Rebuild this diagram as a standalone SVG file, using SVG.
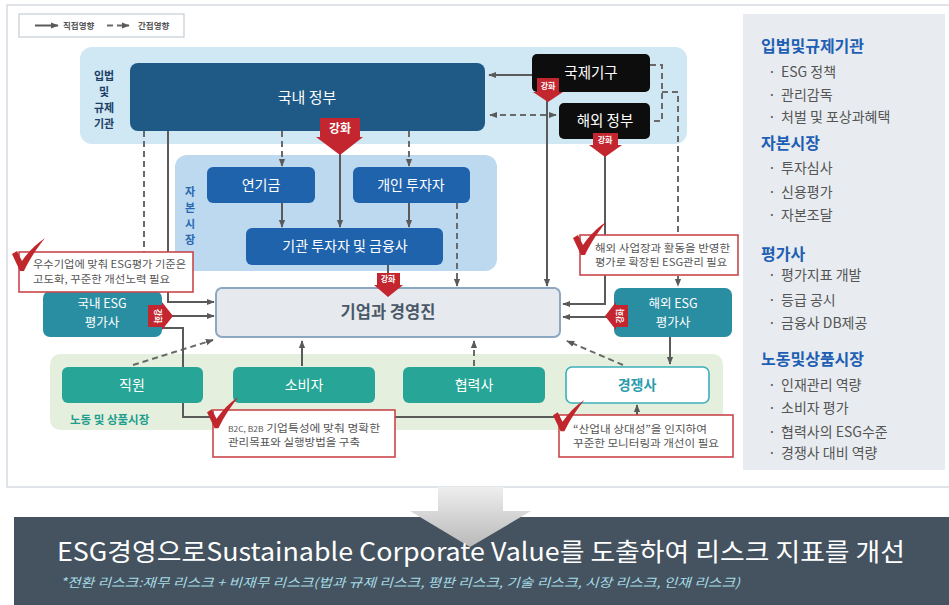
<svg xmlns="http://www.w3.org/2000/svg" width="949" height="605" viewBox="0 0 949 605">
  <defs>
    <style>
      text { font-family: "Noto Sans CJK KR", "Noto Sans", sans-serif; }
      .wt { fill: #ffffff; text-anchor: middle; }
      .line { fill: none; stroke: #5a5a5a; stroke-width: 2; }
      .dash { fill: none; stroke: #6a6a6a; stroke-width: 2; stroke-dasharray: 6 4; }
      .callout { fill: #ffffff; stroke: #c8474c; stroke-width: 1.6; }
      .ctext { fill: #555; font-size: 10.5px; }
      .rh { fill: #1f5fb3; font-size: 16px; font-weight: bold; }
      .ri { fill: #555; font-size: 14px; }
      .gang { fill: #c3262e; }
      .gt { fill: #fff; font-weight: bold; text-anchor: middle; }
      .vl1 { font-size: 11px; font-weight: bold; fill: #1d3f66; text-anchor: middle; }
      .vl2 { font-size: 11px; font-weight: bold; fill: #2a67b1; text-anchor: middle; }
    </style>
    <marker id="ah" viewBox="0 0 10 10" refX="9" refY="5" markerWidth="8" markerHeight="8" orient="auto-start-reverse" markerUnits="userSpaceOnUse">
      <path d="M0,1 L10,5 L0,9 z" fill="#5a5a5a"/>
    </marker>
    <path id="tick" d="M0,16 L5,13 L10,23 C16,14 24,6 33,0 C26,9 18,20 12,33 L8,33 Z" fill="#c0272d"/>
    <linearGradient id="bigArrow" x1="0" y1="0" x2="0" y2="1">
      <stop offset="0" stop-color="#eeeeee"/>
      <stop offset="1" stop-color="#b9b9b9"/>
    </linearGradient>
  </defs>

  <rect width="949" height="605" fill="#ffffff"/>

  <!-- outer frame -->
  <rect x="7" y="5" width="950" height="482" fill="#ffffff" stroke="#d6dce3" stroke-width="1.5"/>

  <!-- legend -->
  <g id="legend">
    <rect x="19" y="14" width="165" height="23" fill="#fff" stroke="#c5cdd6" stroke-width="1.2"/>
    <line x1="35" y1="25.5" x2="58" y2="25.5" class="line" stroke-width="1.3" marker-end="url(#ah)"/>
    <text x="63" y="29" font-size="8.5" font-weight="bold" fill="#555">직접영향</text>
    <line x1="107" y1="25.5" x2="129" y2="25.5" class="dash" stroke-width="1.3" stroke-dasharray="4 3" marker-end="url(#ah)"/>
    <text x="138" y="29" font-size="8.5" font-weight="bold" fill="#555">간접영향</text>
  </g>

  <!-- sector panels -->
  <g id="panel-regulators">
    <rect x="80" y="47" width="607" height="97" rx="12" fill="#d0e7f4"/>
    <text x="104" y="80" class="vl1">입법</text>
    <text x="104" y="96" class="vl1">및</text>
    <text x="104" y="112" class="vl1">규제</text>
    <text x="104" y="128" class="vl1">기관</text>
  </g>
  <g id="panel-capital">
    <rect x="175" y="155" width="322" height="116" rx="12" fill="#bcd9ef"/>
    <text x="190" y="196" class="vl2">자</text>
    <text x="190" y="212" class="vl2">본</text>
    <text x="190" y="228" class="vl2">시</text>
    <text x="190" y="244" class="vl2">장</text>
  </g>
  <g id="panel-market">
    <rect x="50" y="354" width="673" height="76" rx="10" fill="#e4f0dd"/>
    <text x="70" y="424" font-size="11.5" font-weight="bold" fill="#1f9d8f">노동 및 상품시장</text>
  </g>

  <!-- connectors -->
  <g id="connectors">
    <path class="line" d="M532,75 H489" marker-end="url(#ah)"/>
    <path class="dash" d="M490,115 H556" marker-start="url(#ah)" marker-end="url(#ah)"/>
    <path class="dash" d="M650,65 H662 V121 H651"/>
    <path class="dash" d="M662,92 H678 V286" marker-end="url(#ah)"/>
    <path class="line" d="M547,100 V286" marker-end="url(#ah)"/>
    <path class="line" d="M605,155 V304 H563" marker-end="url(#ah)"/>
    <path class="line" d="M607,317 H563" marker-end="url(#ah)"/>
    <path class="line" d="M670,337 V364" marker-end="url(#ah)"/>
    <path class="dash" d="M623,365 L567,341" marker-end="url(#ah)"/>
    <path class="dash" d="M474,366 V341" marker-end="url(#ah)"/>
    <path class="line" d="M302,366 V341" marker-end="url(#ah)"/>
    <path class="dash" d="M133,365 L213,340" marker-end="url(#ah)"/>
    <path class="line" d="M162,328 H183 V417 H637 V405" marker-end="url(#ah)"/>
    <path class="line" d="M172,316 H214" marker-end="url(#ah)"/>
    <path class="line" d="M168,131 V302 H214" marker-end="url(#ah)"/>
    <path class="dash" d="M144,131 V290"/>
    <path class="dash" d="M282,131 V166" marker-end="url(#ah)"/>
    <path class="dash" d="M409,131 V166" marker-end="url(#ah)"/>
    <path class="line" d="M340,150 V227" marker-end="url(#ah)"/>
    <path class="line" d="M282,203 V227" marker-end="url(#ah)"/>
    <path class="line" d="M409,203 V227" marker-end="url(#ah)"/>
    <path class="dash" d="M457,203 V286" marker-end="url(#ah)"/>
    <path class="line" d="M388,265 V275"/>
  </g>

  <!-- regulators -->
  <g id="node-gov">
    <rect x="130" y="63" width="355" height="68" rx="8" fill="#1e5a85"/>
    <text x="307" y="103" class="wt" font-size="15">국내 정부</text>
  </g>
  <g id="node-intl">
    <rect x="532" y="54" width="118" height="38" rx="5" fill="#0d0d0d"/>
    <text x="591" y="78" class="wt" font-size="14.5">국제기구</text>
  </g>
  <g id="node-foreign-gov">
    <rect x="559" y="103" width="91" height="36" rx="5" fill="#0d0d0d"/>
    <text x="605" y="126" class="wt" font-size="14.5">해외 정부</text>
  </g>

  <!-- capital market -->
  <g id="node-pension">
    <rect x="207" y="167" width="108" height="36" rx="6" fill="#1f63ad"/>
    <text x="261" y="190" class="wt" font-size="14">연기금</text>
  </g>
  <g id="node-retail">
    <rect x="353" y="167" width="117" height="36" rx="6" fill="#1f63ad"/>
    <text x="411" y="190" class="wt" font-size="14">개인 투자자</text>
  </g>
  <g id="node-institution">
    <rect x="246" y="228" width="197" height="37" rx="6" fill="#1f63ad"/>
    <text x="345" y="251" class="wt" font-size="14">기관 투자자 및 금융사</text>
  </g>

  <!-- company -->
  <g id="node-company">
    <rect x="216" y="288" width="344" height="49" rx="6" fill="#e6eaef" stroke="#8ea7c0" stroke-width="2"/>
    <text x="388" y="318" font-size="16.5" font-weight="bold" fill="#4a5868" text-anchor="middle">기업과 경영진</text>
  </g>

  <!-- rating agencies -->
  <g id="node-esg-domestic">
    <rect x="43" y="291" width="119" height="46" rx="7" fill="#2a8ea3"/>
    <text x="102" y="308" class="wt" font-size="12.5">국내 ESG</text>
    <text x="102" y="327" class="wt" font-size="12.5">평가사</text>
  </g>
  <g id="node-esg-foreign">
    <rect x="614" y="288" width="118" height="49" rx="7" fill="#2a8ea3"/>
    <text x="673" y="308" class="wt" font-size="12.5">해외 ESG</text>
    <text x="673" y="327" class="wt" font-size="12.5">평가사</text>
  </g>

  <!-- labour and product market -->
  <g id="node-employee">
    <rect x="62" y="367" width="141" height="36" rx="6" fill="#27a596"/>
    <text x="132" y="390" class="wt" font-size="14">직원</text>
  </g>
  <g id="node-consumer">
    <rect x="233" y="367" width="142" height="36" rx="6" fill="#27a596"/>
    <text x="304" y="390" class="wt" font-size="14">소비자</text>
  </g>
  <g id="node-partner">
    <rect x="403" y="367" width="142" height="36" rx="6" fill="#27a596"/>
    <text x="474" y="390" class="wt" font-size="14">협력사</text>
  </g>
  <g id="node-competitor">
    <rect x="566" y="367" width="143" height="36" rx="6" fill="#ffffff" stroke="#3ab0b8" stroke-width="1.6"/>
    <text x="637" y="390" font-size="14" font-weight="bold" fill="#2a9cad" text-anchor="middle">경쟁사</text>
  </g>

  <!-- reinforcement (강화) arrows -->
  <g id="reinforce">
    <path class="gang" d="M320,118 H360 V137 H363 L340,155 L316,137 H320 Z"/>
    <text x="340" y="133" class="gt" font-size="12">강화</text>
    <path class="gang" d="M537,78 H559 V92 H563 L548,102 L533,92 H537 Z"/>
    <text x="548" y="89" class="gt" font-size="8">강화</text>
    <path class="gang" d="M593,133 H618 V145 H622 L605,157 L589,145 H593 Z"/>
    <text x="605" y="142.5" class="gt" font-size="8">강화</text>
    <path class="gang" d="M377,273 H400 V285 H403 L388,297 L374,285 H377 Z"/>
    <text x="388" y="282" class="gt" font-size="8">강화</text>
    <path class="gang" d="M148,305 H162 V302 L173,316 L162,330 V327 H148 Z"/>
    <text x="0" y="0" class="gt" font-size="8" transform="translate(158,316) rotate(90)" dy="3">강화</text>
    <path class="gang" d="M628,305 H616 V302 L605,316 L616,330 V327 H628 Z"/>
    <text x="0" y="0" class="gt" font-size="8" transform="translate(620,316) rotate(-90)" dy="3">강화</text>
  </g>

  <!-- notes -->
  <g id="note-domestic">
    <rect class="callout" x="19" y="252" width="174" height="40"/>
    <text x="33" y="268" class="ctext" textLength="153" lengthAdjust="spacingAndGlyphs">우수기업에 맞춰 ESG평가 기준은</text>
    <text x="33" y="283" class="ctext" textLength="137" lengthAdjust="spacingAndGlyphs">고도화, 꾸준한 개선노력 필요</text>
    <use href="#tick" transform="translate(12,238)"/>
  </g>
  <g id="note-foreign">
    <rect class="callout" x="580" y="235" width="158" height="40"/>
    <text x="595" y="252" class="ctext" textLength="135" lengthAdjust="spacingAndGlyphs">해외 사업장과 활동을 반영한</text>
    <text x="595" y="266" class="ctext" textLength="132" lengthAdjust="spacingAndGlyphs">평가로 확장된 ESG관리 필요</text>
    <use href="#tick" transform="translate(573,222)"/>
  </g>
  <g id="note-consumer">
    <rect class="callout" x="213" y="410" width="182" height="47"/>
    <text x="228" y="432" class="ctext" textLength="152" lengthAdjust="spacingAndGlyphs"><tspan font-size="7.5">B2C, B2B</tspan> 기업특성에 맞춰 명확한</text>
    <text x="228" y="446" class="ctext" textLength="132" lengthAdjust="spacingAndGlyphs">관리목표와 실행방법을 구축</text>
    <use href="#tick" transform="translate(207,397) scale(0.95)"/>
  </g>
  <g id="note-competitor">
    <rect class="callout" x="559" y="415" width="174" height="42"/>
    <text x="573" y="433" class="ctext" textLength="134" lengthAdjust="spacingAndGlyphs">“산업내 상대성”을 인지하여</text>
    <text x="573" y="447" class="ctext" textLength="146" lengthAdjust="spacingAndGlyphs">꾸준한 모니터링과 개선이 필요</text>
    <use href="#tick" transform="translate(553,400) scale(0.95)"/>
  </g>

  <!-- side summary -->
  <g id="summary">
    <rect x="743" y="14" width="202" height="456" fill="#e8ecf0"/>
    <text x="761" y="52" class="rh">입법및규제기관</text>
    <text x="768" y="77" class="ri">·</text><text x="781" y="77" class="ri">ESG 정책</text>
    <text x="768" y="100" class="ri">·</text><text x="781" y="100" class="ri">관리감독</text>
    <text x="768" y="122" class="ri">·</text><text x="781" y="122" class="ri">처벌 및 포상과혜택</text>
    <text x="761" y="149" class="rh">자본시장</text>
    <text x="768" y="173" class="ri">·</text><text x="781" y="173" class="ri">투자심사</text>
    <text x="768" y="197" class="ri">·</text><text x="781" y="197" class="ri">신용평가</text>
    <text x="768" y="220" class="ri">·</text><text x="781" y="220" class="ri">자본조달</text>
    <text x="761" y="260" class="rh">평가사</text>
    <text x="768" y="280" class="ri">·</text><text x="781" y="280" class="ri">평가지표 개발</text>
    <text x="768" y="305" class="ri">·</text><text x="781" y="305" class="ri">등급 공시</text>
    <text x="768" y="328" class="ri">·</text><text x="781" y="328" class="ri">금융사 DB제공</text>
    <text x="761" y="365" class="rh">노동및상품시장</text>
    <text x="768" y="390" class="ri">·</text><text x="781" y="390" class="ri">인재관리 역량</text>
    <text x="768" y="413" class="ri">·</text><text x="781" y="413" class="ri">소비자 평가</text>
    <text x="768" y="437" class="ri">·</text><text x="781" y="437" class="ri">협력사의 ESG수준</text>
    <text x="768" y="458" class="ri">·</text><text x="781" y="458" class="ri">경쟁사 대비 역량</text>
  </g>

  <!-- conclusion banner -->
  <g id="conclusion">
    <rect x="14" y="517" width="935" height="88" fill="#44535f"/>
    <path d="M438,487 H503 V511 H531 L470,547 L410,511 H438 Z" fill="url(#bigArrow)"/>
    <text x="57" y="561" font-size="25" fill="#ffffff" textLength="848" lengthAdjust="spacingAndGlyphs">ESG경영으로Sustainable Corporate Value를 도출하여 리스크 지표를 개선</text>
    <text x="60" y="587" font-size="12.5" font-style="italic" fill="#a6dbe6" textLength="680" lengthAdjust="spacingAndGlyphs">*전환 리스크:재무 리스크 + 비재무 리스크(법과 규제 리스크,  평판 리스크, 기술 리스크, 시장 리스크, 인재 리스크)</text>
  </g>
</svg>
